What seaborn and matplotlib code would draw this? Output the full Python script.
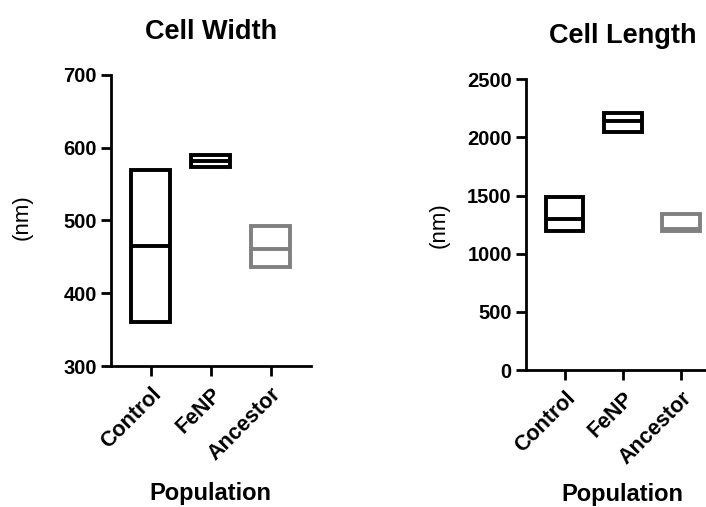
import matplotlib
matplotlib.use("Agg")
import matplotlib.pyplot as plt
import seaborn as sns
import numpy as np

# floating bars: min to max, line at mean
populations = ["Control", "FeNP", "Ancestor"]
bar_colors = ["black", "black", "#808080"]

width_min = [360, 574, 436]
width_max = [570, 590, 493]
width_mean = [465, 582, 461]

length_min = [1195, 2050, 1195]
length_max = [1485, 2212, 1340]
length_mean = [1300, 2145, 1210]

sns.set_style("ticks")
plt.rcParams["font.family"] = ["Liberation Sans", "DejaVu Sans"]
plt.rcParams["text.color"] = "black"
plt.rcParams["axes.labelcolor"] = "black"
plt.rcParams["xtick.color"] = "black"
plt.rcParams["ytick.color"] = "black"
plt.rcParams["axes.edgecolor"] = "black"

fig = plt.figure(figsize=(7.06, 5.07), dpi=100)
ax1 = fig.add_axes([0.1568, 0.2781, 0.2833, 0.574])
ax2 = fig.add_axes([0.7446, 0.2702, 0.2748, 0.5734])


def float_bars(ax, lows, highs, means, title, ylim, yticks):
    heights = np.array(highs) - np.array(lows)
    sns.barplot(x=populations, y=heights, bottom=lows, fill=False, color="black",
                width=0.65, linewidth=2.8, errorbar=None, ax=ax)
    for patch, c in zip(ax.patches, bar_colors):
        patch.set_edgecolor(c)
    pos = np.arange(len(populations))
    ax.hlines(means, pos - 0.325, pos + 0.325, colors=bar_colors, linewidth=2.8)

    ax.set_xlim(-0.67, 2.67)
    ax.set_ylim(*ylim)
    sns.despine(ax=ax)
    for side in ["left", "bottom"]:
        ax.spines[side].set_linewidth(2)
        ax.spines[side].set_color("black")
    ax.tick_params(axis="both", length=7, width=2, direction="out", pad=3,
                   colors="black")
    ax.tick_params(axis="x", pad=6)
    ax.set_yticks(yticks, [str(t) for t in yticks], fontsize=14.5, fontweight="bold")
    ax.set_xticks(pos, populations, fontsize=15.5, fontweight="bold", rotation=45,
                  ha="right", va="top", rotation_mode="anchor")
    ax.set_title(title, fontsize=19.5, fontweight="bold", pad=26, color="black")
    ax.set_xlabel("Population", fontsize=17, fontweight="bold")
    ax.set_ylabel("(nm)", fontsize=16)


float_bars(ax1, width_min, width_max, width_mean, "Cell Width", (300, 700),
           [300, 400, 500, 600, 700])
float_bars(ax2, length_min, length_max, length_mean, "Cell Length", (0, 2500),
           [0, 500, 1000, 1500, 2000, 2500])

ax1.xaxis.set_label_coords(0.5, -0.40)
ax2.xaxis.set_label_coords(0.5, -0.39)
ax1.yaxis.set_label_coords(-0.39, 0.51)
ax2.yaxis.set_label_coords(-0.39, 0.50)

fig.savefig("out.png", dpi=100)
